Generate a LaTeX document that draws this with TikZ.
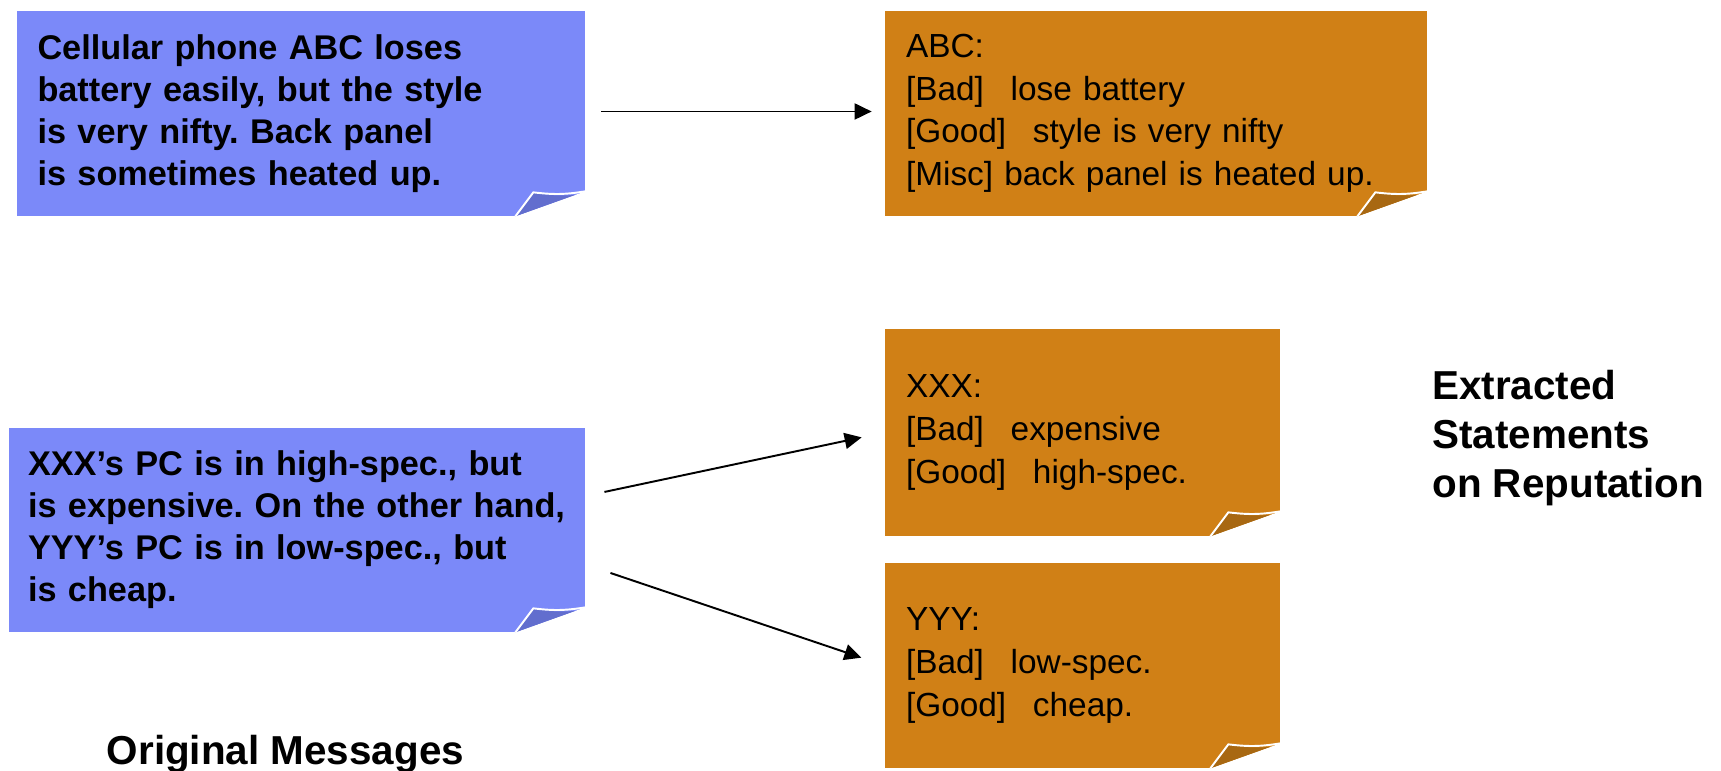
\documentclass[tikz,border=0pt]{standalone}
\usepackage{fontspec}
\setmainfont{Liberation Sans}
\usetikzlibrary{arrows.meta}
\definecolor{msgblue}{RGB}{123,137,249}
\definecolor{msgfold}{RGB}{98,110,206}
\definecolor{reporange}{RGB}{208,128,22}
\definecolor{repfold}{RGB}{168,104,18}
\frenchspacing
% turned-up corner at the lower right of a note
\newcommand{\fold}[2]{%
  \begin{scope}[shift={(#1.south east)}]
    \fill[white] (-1.4,-0.03) -- (0.03,-0.03) -- (0.03,0.5) -- (0,0.5) -- (-1.4,0) -- cycle;
    \fill[#2] (-1.4,0) -- (-1.04,0.48) to[bend right=8] (-0.2,0.43) -- cycle;
    \draw[white,line width=1.1pt] (-1.4,0) -- (-1.04,0.48) to[bend right=8] (0,0.5);
  \end{scope}}

\begin{document}
\begin{tikzpicture}[
    msg/.style={fill=msgblue,align=left,inner xsep=0.42cm,inner ysep=0pt,
      font=\fontsize{19.5}{23.9}\selectfont\bfseries},
    rep/.style={fill=reporange,align=left,inner xsep=0.42cm,inner ysep=0pt,
      font=\fontsize{19}{24.2}\selectfont},
    caption/.style={align=left,inner sep=0pt,anchor=west,
      font=\fontsize{23}{27.9}\selectfont\bfseries}]
    \useasboundingbox (0,0) rectangle (34.42,15.42);

    \node[msg,text width=10.53cm,minimum height=4.1cm] (m1) at (6.015,13.15)
      {Cellular phone ABC loses\\battery easily, but the style\\is very nifty. Back panel\\is sometimes heated up.};
    \node[msg,inner xsep=0.38cm,text width=10.76cm,minimum height=4.08cm] (m2) at (5.94,4.82)
      {XXX's PC is in high-spec., but\\is expensive. On the other hand,\\YYY's PC is in low-spec., but\\is cheap.};

    \node[rep,text width=10cm,minimum height=4.1cm] (s1) at (23.12,13.15)
      {ABC:\\{[}Bad{]}\hspace{0.8em}lose battery\\{[}Good{]}\hspace{0.8em}style is very nifty\\{[}Misc{]} back panel is heated up.};
    \node[rep,text width=7.06cm,minimum height=4.14cm] (s2) at (21.65,6.77)
      {XXX:\\{[}Bad{]}\hspace{0.8em}expensive\\{[}Good{]}\hspace{0.8em}high-spec.};
    \node[rep,text width=7.06cm,minimum height=4.1cm] (s3) at (21.65,2.11)
      {YYY:\\{[}Bad{]}\hspace{0.8em}low-spec.\\{[}Good{]}\hspace{0.8em}cheap.};

    \fold{m1}{msgfold}
    \fold{m2}{msgfold}
    \fold{s1}{repfold}
    \fold{s2}{repfold}
    \fold{s3}{repfold}

    \node[caption] (orig) at (2.13,0.33) {Original Messages};
    \node[caption] (extr) at (28.64,6.65) {Extracted\\Statements\\on Reputation};

    \path[-{Triangle[length=0.34cm,width=0.32cm]},line width=1.1pt]
    ([yshift=0.04cm]m1.east) edge [shorten <=0.32cm,shorten >=0.26cm] ([yshift=0.04cm]s1.west)
    ([yshift=0.68cm]m2.east) edge [shorten <=0.39cm,shorten >=0.47cm] (s2.west)
    ([yshift=-0.69cm]m2.east) edge [shorten <=0.53cm,shorten >=0.49cm] (s3.west)
    ;
  \end{tikzpicture}
\end{document}
